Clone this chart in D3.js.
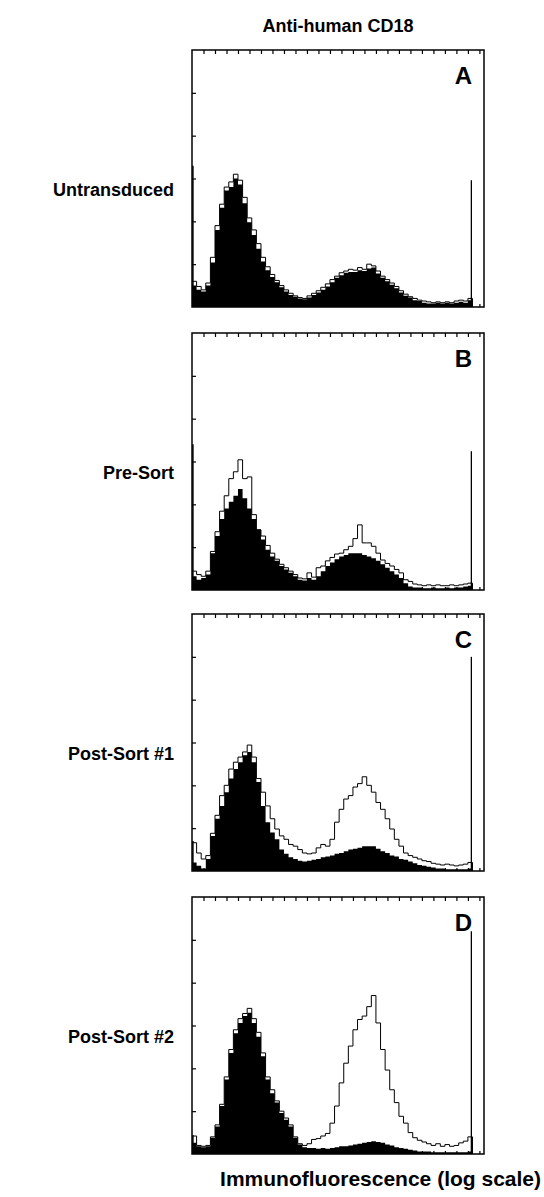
<!DOCTYPE html>
<html>
<head>
<meta charset="utf-8">
<script src="https://cdn.jsdelivr.net/npm/d3@7"></script>
<style>
  body { margin: 0; background: #fff; }
  svg { display: block; }
  text { font-family: "Liberation Sans", Arial, Helvetica, sans-serif; font-weight: bold; fill: #000; }
</style>
</head>
<body>
<div id="chart"></div>
<script>
const width = 544;
const height = 1197;

// histogram bins start every 4 channels, 0..240
const binStart = d3.range(0, 244, 4);
const binWidth = 4;
const spikeChannel = 243;

const panelLetters = ['A', 'B', 'C', 'D'];
const rowLabels = ['Untransduced', 'Pre-Sort', 'Post-Sort #1', 'Post-Sort #2'];
const titleText = 'Anti-human CD18';
const xAxisLabel = 'Immunofluorescence (log scale)';

// filled (control) histograms
const filledA = [25,20,18,25,52,90,116,136,140,150,143,121,99,84,68,53,43,35,29,23,18,14,12,10,9,11,14,17,20,24,29,34,37,40,41,41,43,42,45,46,39,34,30,26,22,17,13,11,8,7,5,4,4,5,4,5,4,5,6,5,8];
const filledB = [16,12,14,18,43,63,83,95,103,110,118,107,95,83,71,59,47,39,34,28,24,20,16,12,11,14,12,16,22,28,32,36,39,41,43,43,43,41,39,37,34,30,26,22,18,14,8,4,3,3,2,2,3,2,2,3,2,3,3,4,5];
const filledC = [10,6,3,14,41,61,76,92,108,119,127,135,139,127,104,76,57,45,37,25,20,16,14,12,11,12,13,14,16,17,18,20,21,23,25,26,27,29,29,29,26,23,21,18,17,14,13,11,9,7,6,5,4,3,3,2,2,2,2,2,3];
const filledD = [13,9,8,9,19,32,56,87,118,141,153,161,165,153,137,114,87,71,60,48,40,32,19,11,8,7,7,6,7,6,7,8,9,9,10,11,12,13,14,15,14,13,11,10,8,7,6,5,4,3,3,3,2,2,2,2,2,2,2,2,3];

// outline (anti-CD18 stained) histograms
const outlineA = [30,24,20,28,58,95,120,140,146,155,148,128,104,90,74,58,47,38,31,25,20,16,13,11,10,13,16,19,23,27,32,36,40,42,44,43,46,44,50,48,42,36,32,28,24,19,15,12,10,8,7,6,5,6,5,6,5,7,8,7,10];
const outlineB = [22,18,16,22,45,68,92,110,130,138,152,130,132,88,70,63,52,43,36,30,26,22,18,14,13,20,15,26,28,34,38,42,43,47,51,60,76,55,55,51,43,35,31,28,24,20,12,10,7,6,5,6,5,6,5,5,6,5,6,7,8];
const outlineC = [33,21,14,18,44,65,88,100,119,127,133,139,147,133,108,92,76,61,49,41,37,31,29,25,21,20,21,27,31,29,37,57,72,84,88,98,102,110,100,92,80,72,61,49,37,29,21,18,16,14,12,11,9,8,7,8,7,6,7,8,10];
const outlineD = [21,10,9,10,20,34,58,90,122,145,158,164,170,158,142,118,90,75,62,50,42,34,20,12,10,12,17,18,21,24,36,56,83,106,126,145,157,161,172,185,153,122,98,75,60,44,36,25,19,16,14,12,10,12,9,11,9,10,13,15,20];

// first-channel and last-channel pile-up
const leftSpikes = [165, 170, 35, 22];
const spikes = [148, 162, 250, 260];

const filled = [filledA, filledB, filledC, filledD];
const outline = [outlineA, outlineB, outlineC, outlineD];

const panelLeft = 192;
const panelW = 292;
const panelTops = [50, 333, 614, 897];
const panelH = 257;

const x = d3.scaleLinear().domain([0, 254]).range([0, panelW]);
const y = d3.scaleLinear().domain([0, 300]).range([panelH, 0]);

const svg = d3.select('#chart')
    .append('svg')
    .attr('width', width)
    .attr('height', height);

svg.append('text')
    .attr('x', panelLeft + panelW / 2)
    .attr('y', 32)
    .attr('text-anchor', 'middle')
    .style('font-size', '18px')
    .text(titleText);

function stepPoints(vals) {
    let pts = binStart.map((c, i) => ({ c: c, v: vals[i] }));
    pts.push({ c: binStart[binStart.length - 1] + binWidth, v: 0 });
    return pts;
}

const area = d3.area()
    .curve(d3.curveStepAfter)
    .x(d => x(d.c))
    .y0(y(0))
    .y1(d => y(d.v));

const line = d3.line()
    .curve(d3.curveStepAfter)
    .x(d => x(d.c))
    .y(d => y(d.v));

for (let p = 0; p < 4; p++) {
    let g = svg.append('g')
        .attr('transform', 'translate(' + panelLeft + ',' + panelTops[p] + ')');

    g.append('path')
        .attr('d', area(stepPoints(filled[p])))
        .attr('fill', '#000')
        .attr('stroke', 'none');

    g.append('path')
        .attr('d', line(stepPoints(outline[p])))
        .attr('fill', 'none')
        .attr('stroke', '#000')
        .attr('stroke-width', 1);

    g.append('line')
        .attr('x1', x(0.8)).attr('x2', x(0.8))
        .attr('y1', y(0)).attr('y2', y(leftSpikes[p]))
        .attr('stroke', '#000')
        .attr('stroke-width', 1.5);

    g.append('line')
        .attr('x1', x(spikeChannel)).attr('x2', x(spikeChannel))
        .attr('y1', y(0)).attr('y2', y(spikes[p]))
        .attr('stroke', '#000')
        .attr('stroke-width', 1.3);

    // inward ticks, no labels
    let topAxis = d3.axisBottom(x)
        .tickValues(d3.range(10, 254, 10))
        .tickSize(4)
        .tickFormat('');
    g.append('g').call(topAxis);

    let bottomAxis = d3.axisTop(x)
        .tickValues(d3.range(10, 254, 10))
        .tickSize(3)
        .tickFormat('');
    g.append('g').attr('transform', 'translate(0,' + panelH + ')').call(bottomAxis);

    let leftAxis = d3.axisRight(y)
        .tickValues(d3.range(50, 300, 50))
        .tickSize(4)
        .tickFormat('');
    g.append('g').call(leftAxis);

    g.selectAll('.domain').remove();
    g.selectAll('.tick line').attr('stroke', '#000').attr('stroke-width', 1.2);

    g.append('rect')
        .attr('width', panelW)
        .attr('height', panelH)
        .attr('fill', 'none')
        .attr('stroke', '#000')
        .attr('stroke-width', 1.5);

    g.append('text')
        .attr('x', panelW - 12)
        .attr('y', 34)
        .attr('text-anchor', 'end')
        .style('font-size', '24px')
        .text(panelLetters[p]);

    svg.append('text')
        .attr('x', 174)
        .attr('y', panelTops[p] + 146)
        .attr('text-anchor', 'end')
        .style('font-size', '18px')
        .text(rowLabels[p]);
}

svg.append('text')
    .attr('x', 541)
    .attr('y', 1186)
    .attr('text-anchor', 'end')
    .style('font-size', '21px')
    .text(xAxisLabel);
</script>
</body>
</html>
